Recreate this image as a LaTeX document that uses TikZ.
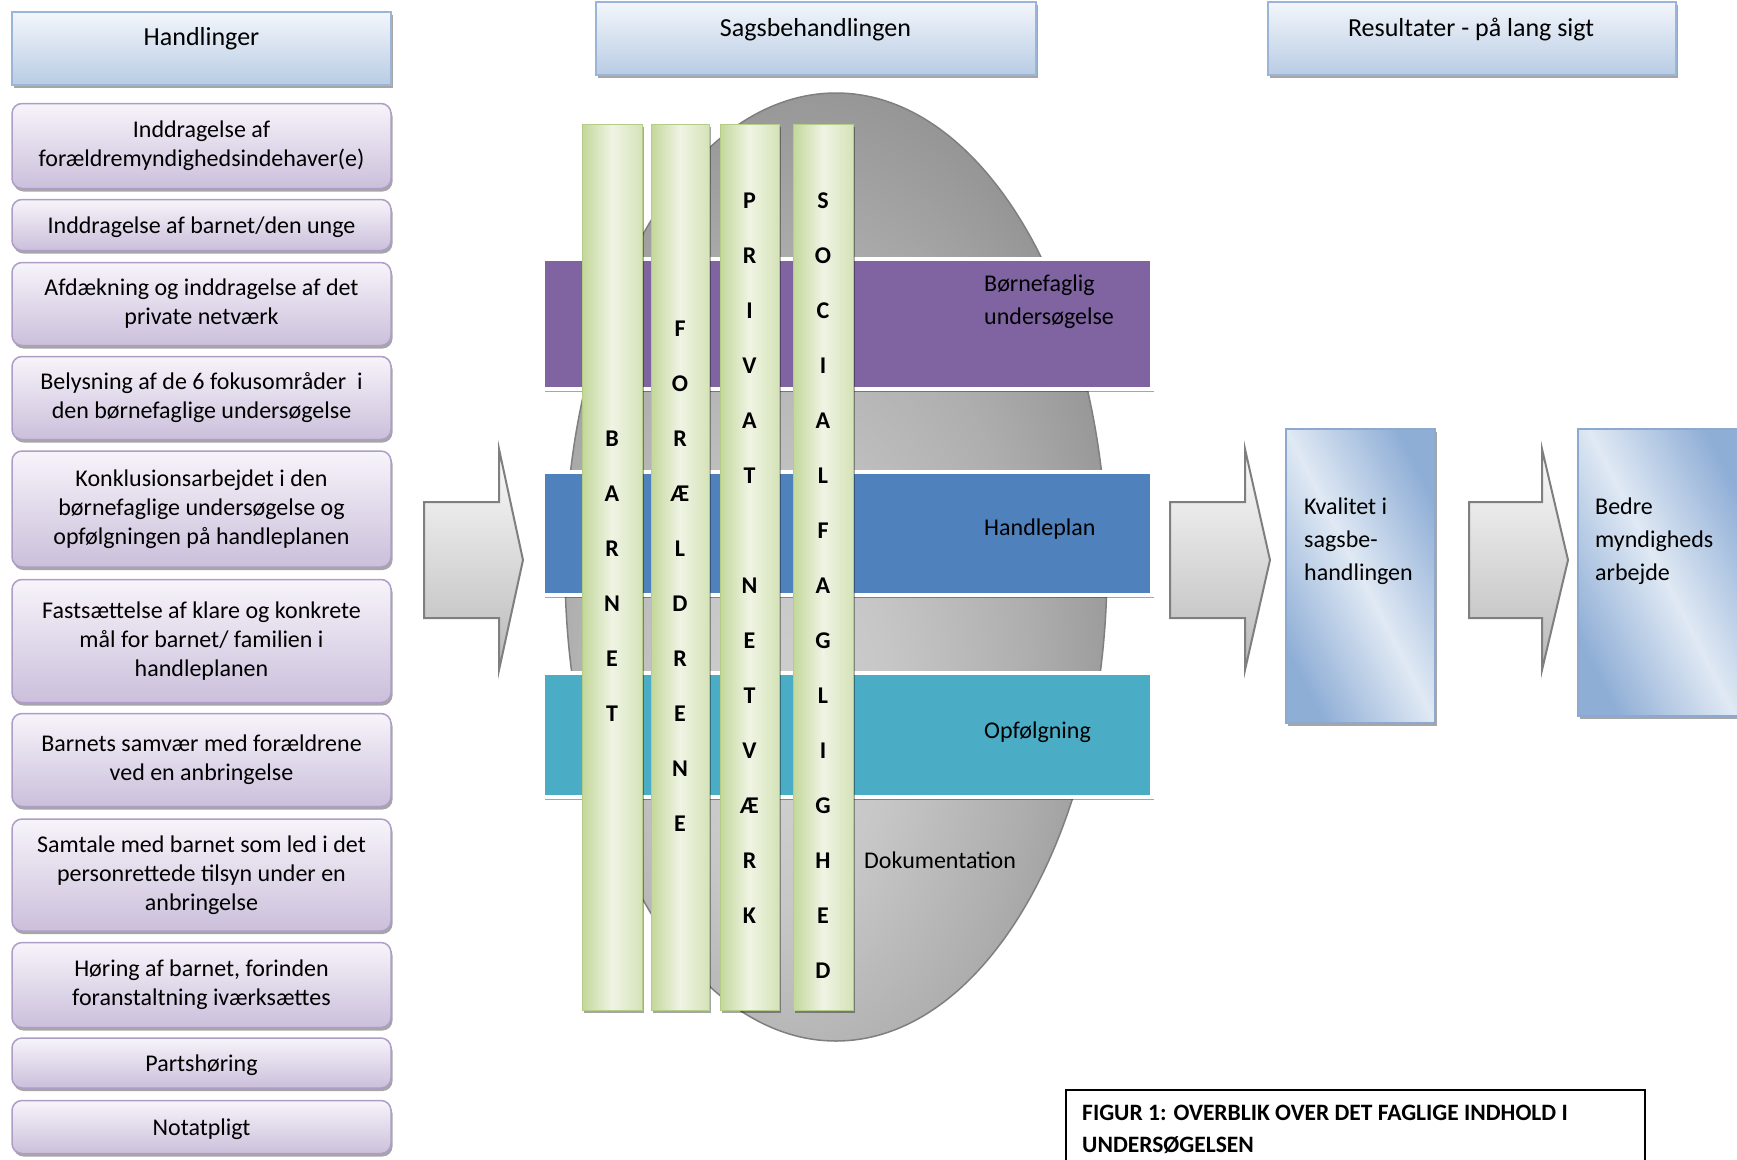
\documentclass[tikz,border=0pt]{standalone}
\usepackage{fontspec}
\setmainfont{Carlito}
\usetikzlibrary{shadows,shapes.geometric}

\definecolor{hdrTop}{HTML}{F3F6FB}
\definecolor{hdrBot}{HTML}{B8CCE4}
\definecolor{hdrLine}{HTML}{9AB5D8}
\definecolor{pTop}{HTML}{F7F4FA}
\definecolor{pBot}{HTML}{CBBFDB}
\definecolor{pLine}{HTML}{AE9DC6}
\definecolor{bandPurple}{HTML}{8064A2}
\definecolor{bandBlue}{HTML}{4F81BD}
\definecolor{bandTeal}{HTML}{4BACC6}
\definecolor{gLeft}{HTML}{C3D79A}
\definecolor{gMid}{HTML}{EFF4E4}
\definecolor{gRight}{HTML}{D5E3B8}
\definecolor{gLine}{HTML}{B5CB88}
\definecolor{rDark}{HTML}{8FAED6}
\definecolor{rLight}{HTML}{E0E9F4}
\definecolor{rLine}{HTML}{8DA9CF}
\definecolor{arrLine}{HTML}{7F7F7F}

\pgfdeclareradialshading{ellshade}{\pgfpoint{-6bp}{-10bp}}{%
  color(0bp)=(black!18); color(10bp)=(black!22); color(22bp)=(black!32);
  color(34bp)=(black!45); color(44bp)=(black!52); color(60bp)=(black!55)}

\tikzset{
  shadowA/.style={drop shadow={shadow xshift=1.5pt, shadow yshift=-3pt, fill=black, opacity=0.35}},
  hdr/.style={draw=hdrLine, line width=1.5pt, top color=hdrTop, bottom color=hdrBot, shadowA, minimum height=73pt, inner sep=0pt},
  hdrtxt/.style={font=\fontsize{26}{30}\selectfont, anchor=base, inner sep=0pt},
  pbox/.style={draw=pLine, line width=1.5pt, rounded corners=10pt, top color=pTop, bottom color=pBot, shadowA, minimum width=379pt, align=center, inner sep=0pt, font=\fontsize{24}{29}\selectfont},
  band/.style={draw=white, line width=4pt, shadowA, minimum width=609pt, inner sep=0pt},
  bandtxt/.style={font=\fontsize{24}{33}\selectfont, anchor=north west, align=left, inner sep=0pt},
  pillar/.style={draw=gLine, line width=1pt, left color=gLeft, right color=gRight, middle color=gMid, shadowA, minimum height=886pt, inner sep=0pt},
  pletter/.style={font=\bfseries\fontsize{24}{24}\selectfont, inner sep=0pt},
  ell/.style={ellipse, draw=arrLine, line width=1.5pt, shading=ellshade, minimum width=542pt, minimum height=948pt, inner sep=0pt},
  bigarrow/.style={draw=arrLine, line width=2pt, top color=gray!3, bottom color=gray!55, line join=miter},
  rbox/.style={draw=rLine, line width=1.5pt, left color=rDark, right color=rDark, middle color=rLight, shading angle=117, shadowA, inner sep=0pt},
  rtxt/.style={font=\fontsize{24}{33}\selectfont, anchor=north west, align=left, inner sep=0pt},
}

\begin{document}
\begin{tikzpicture}[x=1pt,y=-1pt]
\useasboundingbox (0,0) rectangle (1737,1159);
\clip (0,0) rectangle (1737,1159);

% headers
\node[hdr, minimum width=379pt] (h1) at (201.5,48.5) {};
\node[hdrtxt] (h1t) at (201.5,45.5) {Handlinger};
\node[hdr, minimum width=440pt] (h2) at (816,38.5) {};
\node[hdrtxt] (h2t) at (815.5,36.5) {Sagsbehandlingen};
\node[hdr, minimum width=408pt] (h3) at (1472,38.5) {};
\node[hdrtxt] (h3t) at (1471,36.5) {Resultater - på lang sigt};

% left boxes
\node[pbox, minimum height=85pt] (b1) at (201.5,146) {Inddragelse af\\forældremyndighedsindehaver(e)};
\node[pbox, minimum height=51pt, text depth=0pt] (b2) at (201.5,225) {Inddragelse af barnet/den unge};
\node[pbox, minimum height=83pt] (b3) at (201.5,304) {Afdækning og inddragelse af det\\private netværk};
\node[pbox, minimum height=83pt] (b4) at (201.5,398) {Belysning af de 6 fokusområder~ i\\den børnefaglige undersøgelse};
\node[pbox, minimum height=116pt] (b5) at (201.5,509) {Konklusionsarbejdet i den\\børnefaglige undersøgelse og\\opfølgningen på handleplanen};
\node[pbox, minimum height=123pt] (b6) at (201.5,641) {Fastsættelse af klare og konkrete\\mål for barnet/ familien i\\handleplanen};
\node[pbox, minimum height=93pt] (b7) at (201.5,760) {Barnets samvær med forældrene\\ved en anbringelse};
\node[pbox, minimum height=112pt] (b8) at (201.5,875) {Samtale med barnet som led i det\\personrettede tilsyn under en\\anbringelse};
\node[pbox, minimum height=85pt] (b9) at (201.5,985) {Høring af barnet, forinden\\foranstaltning iværksættes};
\node[pbox, minimum height=50pt, text depth=0pt] (b10) at (201.5,1063) {Partshøring};
\node[pbox, minimum height=53pt, text depth=0pt] (b11) at (201.5,1127) {Notatpligt};

% arrows
\draw[bigarrow] (424,502) -- (499,502) -- (499,449) -- (523,560) -- (499,670) -- (499,618) -- (424,618) -- cycle;
\draw[bigarrow] (1170,502) -- (1245,502) -- (1245,449) -- (1270,560) -- (1245,670) -- (1245,618) -- (1170,618) -- cycle;
\draw[bigarrow] (1469,502) -- (1542,502) -- (1542,449) -- (1568,560) -- (1542,670) -- (1542,618) -- (1469,618) -- cycle;

% ellipse
\node[ell] (doc) at (836,567) {};

% bands
\node[band, fill=bandPurple, minimum height=130pt] (bu) at (847.5,324) {};
\node[band, fill=bandBlue, minimum height=123pt] (hp) at (847.5,533.5) {};
\node[band, fill=bandTeal, minimum height=124pt] (op) at (847.5,735) {};

\node[bandtxt] (but) at (984,275) {Børnefaglig\\undersøgelse};
\node[bandtxt] (hpt) at (984,519) {Handleplan};
\node[bandtxt] (opt) at (984,722) {Opfølgning};

% pillars
\node[pillar, minimum width=60pt] (barnet) at (612,567) {};
\node[pillar, minimum width=58pt] (foraeldre) at (680,567) {};
\node[pillar, minimum width=59pt] (privat) at (749.5,567) {};
\node[pillar, minimum width=60pt] (social) at (823,567) {};

\foreach \l [count=\i from 0] in {B,A,R,N,E,T}
  \node[pletter] (bl\i) at (612,{438.7+55*\i}) {\l};
\foreach \l [count=\i from 0] in {F,O,R,Æ,L,D,R,E,N,E}
  \node[pletter] (fl\i) at (680,{329+55*\i}) {\l};
\foreach \l/\i in {P/0,R/1,I/2,V/3,A/4,T/5,N/7,E/8,T/9,V/10,Æ/11,R/12,K/13}
  \node[pletter] (pl\i) at (749.5,{200.5+55*\i}) {\l};
\foreach \l [count=\i from 0] in {S,O,C,I,A,L,F,A,G,L,I,G,H,E,D}
  \node[pletter] (sl\i) at (823,{200.5+55*\i}) {\l};

\node[font=\fontsize{24}{28}\selectfont, anchor=west, inner sep=0pt] (doktxt) at (864,860) {Dokumentation};

% results
\node[rbox, minimum width=149pt, minimum height=294pt] (kval) at (1360.5,576) {};
\node[rtxt] (kvalt) at (1304,498) {Kvalitet i\\sagsbe-\\handlingen};
\node[rbox, minimum width=167pt, minimum height=287pt] (bedre) at (1661.5,572.5) {};
\node[rtxt] (bedret) at (1595,498) {Bedre\\myndigheds\\arbejde};

% caption
\node[draw, line width=1.5pt, minimum width=579pt, minimum height=100pt, anchor=north west, inner sep=0pt] (capbox) at (1065,1089) {};
\node[font=\bfseries\fontsize{23.5}{32}\selectfont, anchor=north west, align=left, inner sep=0pt] (capt) at (1082,1105) {FIGUR 1: OVERBLIK OVER DET FAGLIGE INDHOLD I\\UNDERSØGELSEN};
\end{tikzpicture}
\end{document}
